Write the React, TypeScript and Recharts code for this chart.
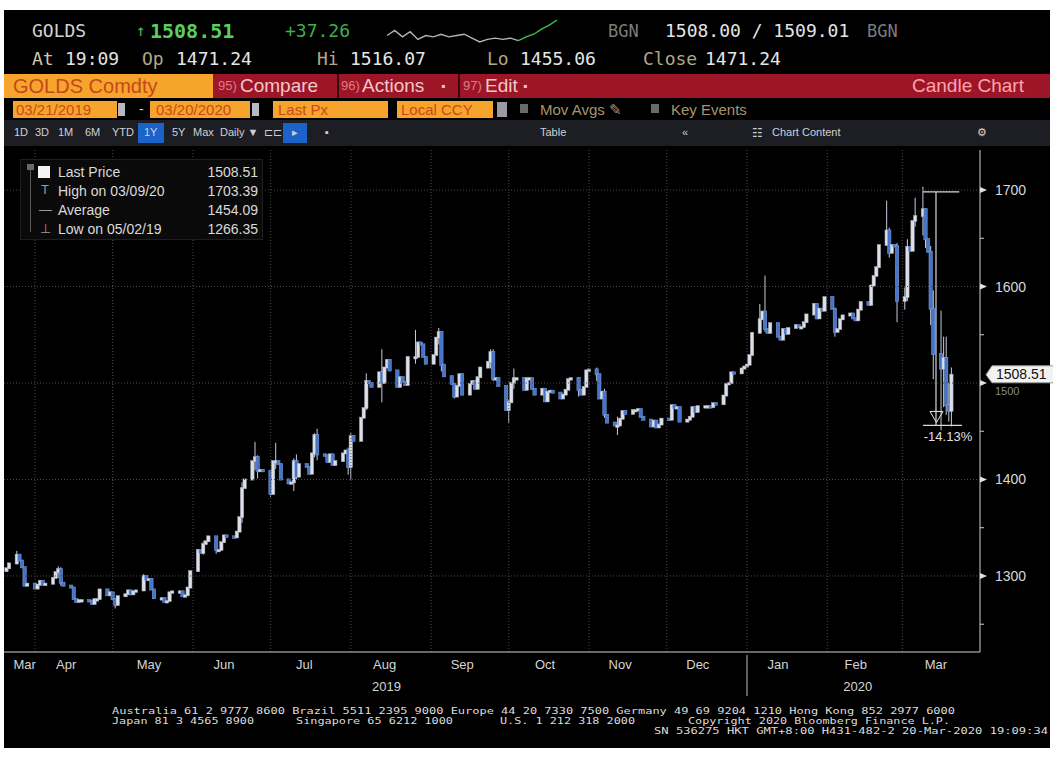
import React from "react";
import {
  ComposedChart,
  Bar,
  XAxis,
  YAxis,
  ReferenceLine,
  ReferenceDot,
  LineChart,
  Line,
} from "recharts";

// daily closes (weekdays)
const mar19 = [1308, 1313, 1322, 1316, 1309, 1290, 1292];
const apr19 = [1287, 1291, 1295, 1291, 1292, 1298, 1304, 1307, 1293, 1290, 1288, 1276, 1273, 1275, 1275, 1274, 1271, 1276, 1276, 1286, 1280, 1283];
const may19 = [1276, 1270, 1279, 1281, 1285, 1281, 1284, 1285, 1300, 1296, 1297, 1286, 1277, 1277, 1273, 1274, 1283, 1284, 1284, 1279, 1280, 1288, 1305];
const jun19 = [1327, 1324, 1333, 1336, 1341, 1327, 1327, 1335, 1342, 1341, 1340, 1346, 1361, 1391, 1400, 1419, 1423, 1409, 1410, 1409];
const jul19 = [1385, 1419, 1419, 1416, 1400, 1396, 1397, 1419, 1403, 1416, 1413, 1406, 1427, 1446, 1426, 1425, 1418, 1426, 1415, 1419, 1427, 1430, 1413];
const aug19 = [1445, 1440, 1464, 1474, 1502, 1500, 1496, 1511, 1500, 1516, 1524, 1513, 1496, 1506, 1501, 1498, 1527, 1527, 1542, 1540, 1527, 1520];
const sep19 = [1529, 1547, 1553, 1519, 1507, 1499, 1486, 1497, 1509, 1488, 1499, 1502, 1494, 1506, 1516, 1522, 1532, 1504, 1505, 1497, 1472];
const oct19 = [1480, 1500, 1505, 1505, 1493, 1505, 1505, 1494, 1488, 1494, 1481, 1491, 1492, 1490, 1484, 1488, 1493, 1504, 1505, 1493, 1488, 1496, 1513];
const nov19 = [1514, 1509, 1484, 1491, 1467, 1459, 1456, 1456, 1463, 1471, 1468, 1472, 1472, 1473, 1465, 1462, 1455, 1461, 1454, 1457, 1463];
const dec19 = [1462, 1477, 1474, 1475, 1460, 1462, 1465, 1475, 1470, 1476, 1476, 1476, 1475, 1479, 1478, 1487, 1499, 1500, 1511, 1510, 1515, 1517];
const jan20 = [1519, 1529, 1552, 1566, 1574, 1556, 1552, 1562, 1548, 1545, 1556, 1551, 1557, 1560, 1558, 1558, 1563, 1571, 1582, 1567, 1577, 1575, 1589];
const feb20 = [1577, 1553, 1556, 1566, 1570, 1572, 1567, 1565, 1576, 1584, 1581, 1601, 1611, 1620, 1643, 1658, 1635, 1643, 1642, 1585];
const mar20 = [1589, 1641, 1637, 1668, 1673, 1680, 1649, 1636, 1577, 1530, 1515, 1526, 1477, 1471.24, 1508.51];

const firstOpen = 1305;

// [year, month, first day, closes]
const monthBlocks: [number, number, number, number[]][] = [
  [2019, 3, 21, mar19],
  [2019, 4, 1, apr19],
  [2019, 5, 1, may19],
  [2019, 6, 1, jun19],
  [2019, 7, 1, jul19],
  [2019, 8, 1, aug19],
  [2019, 9, 1, sep19],
  [2019, 10, 1, oct19],
  [2019, 11, 1, nov19],
  [2019, 12, 1, dec19],
  [2020, 1, 1, jan20],
  [2020, 2, 1, feb20],
  [2020, 3, 1, mar20],
];

// visible wicks: [date, high, low]
const wicks: [string, number, number][] = [
  ["2019-03-25", 1326, 1312],
  ["2019-04-10", 1310, 1298],
  ["2019-04-11", 1309, 1290],
  ["2019-05-02", 1277, 1266.35],
  ["2019-05-13", 1302, 1285],
  ["2019-06-05", 1336, 1322],
  ["2019-06-10", 1340, 1323],
  ["2019-06-20", 1397, 1355],
  ["2019-06-25", 1439, 1410],
  ["2019-06-26", 1425, 1401],
  ["2019-07-01", 1409, 1382],
  ["2019-07-03", 1438, 1411],
  ["2019-07-10", 1422, 1388],
  ["2019-07-11", 1426, 1400],
  ["2019-07-18", 1448, 1423],
  ["2019-07-19", 1452.6, 1420],
  ["2019-07-31", 1433, 1405],
  ["2019-08-01", 1448, 1400],
  ["2019-08-07", 1510, 1472],
  ["2019-08-13", 1535, 1480],
  ["2019-08-26", 1555, 1520],
  ["2019-09-04", 1557, 1540],
  ["2019-09-05", 1552, 1512],
  ["2019-09-10", 1500, 1484],
  ["2019-09-24", 1535, 1515],
  ["2019-09-25", 1535, 1502],
  ["2019-10-01", 1483, 1459],
  ["2019-10-03", 1515, 1494],
  ["2019-10-28", 1506, 1486],
  ["2019-11-04", 1516, 1502],
  ["2019-11-07", 1494, 1464],
  ["2019-11-12", 1465, 1446],
  ["2020-01-06", 1582, 1552],
  ["2020-01-08", 1611.4, 1553],
  ["2020-02-04", 1578, 1548],
  ["2020-02-24", 1689, 1643],
  ["2020-02-25", 1661, 1630],
  ["2020-02-28", 1645, 1563],
  ["2020-03-02", 1599, 1576],
  ["2020-03-03", 1649, 1585],
  ["2020-03-06", 1692, 1662],
  ["2020-03-09", 1703.39, 1653],
  ["2020-03-10", 1681, 1640],
  ["2020-03-12", 1642, 1560],
  ["2020-03-13", 1596, 1504],
  ["2020-03-16", 1575, 1451],
  ["2020-03-17", 1548, 1475],
  ["2020-03-18", 1548, 1467],
  ["2020-03-19", 1500, 1460],
  ["2020-03-20", 1516.07, 1455.06],
];

const monthStarts = ["2019-04-01", "2019-05-01", "2019-06-01", "2019-07-01", "2019-08-01", "2019-09-01", "2019-10-01", "2019-11-01", "2019-12-01", "2020-01-01", "2020-02-01", "2020-03-01"];
const labelDates = ["2019-03-28", "2019-04-13", "2019-05-15", "2019-06-13", "2019-07-14", "2019-08-14", "2019-09-13", "2019-10-15", "2019-11-13", "2019-12-13", "2020-01-13", "2020-02-12", "2020-03-14"];
const monthNames = ["Mar", "Apr", "May", "Jun", "Jul", "Aug", "Sep", "Oct", "Nov", "Dec", "Jan", "Feb", "Mar"];
const yearLabels: [string, string][] = [["2019-08-14", "2019"], ["2020-02-12", "2020"]];
const yearBreak = "2020-01-01";

const majorTicks = [1300, 1400, 1500, 1600, 1700];
const minorTicks = [1250, 1350, 1450, 1550, 1650];
const lastPrice = 1508.51;
// the axis label that sits under the last-price tag
const lastPriceTick = 1500;

// high-to-low marker
const markHigh = 1698;
const markLow = 1456;
const markTopFrom = "2020-03-09";
const markTopTo = "2020-03-23";
const markBotFrom = "2020-03-09";
const markBotTo = "2020-03-24";
const markAt = "2020-03-14";
const markText = "-14.13%";

const sparkVals = [8, 12, 7, 11, 5, 8, 7, 9, 7, 8, 9, 6, 3, 5, 6, 5, 6, 4, 7, 9, 13, 16, 20];
const sparkSplit = 17;

const START = Date.UTC(2019, 2, 21);
const dayOf = (iso: string) =>
  Math.round((Date.parse(iso + "T00:00:00Z") - START) / 86400000);

const wickMap: Record<string, [number, number]> = {};
wicks.forEach(([d, h, l]) => (wickMap[d] = [h, l]));

const candles: any[] = [];
let prevClose = firstOpen;
monthBlocks.forEach(([yr, mo, from, closes]) => {
  const lastDay = new Date(Date.UTC(yr, mo, 0)).getUTCDate();
  let i = 0;
  for (let day = from; day <= lastDay && i < closes.length; day++) {
    const dt = new Date(Date.UTC(yr, mo - 1, day));
    const wd = dt.getUTCDay();
    if (wd === 0 || wd === 6) continue;
    const iso = dt.toISOString().slice(0, 10);
    const close = closes[i++];
    const open = prevClose;
    const w = wickMap[iso];
    const high = Math.max(open, close, w ? w[0] : -Infinity);
    const low = Math.min(open, close, w ? w[1] : Infinity);
    candles.push({ d: dayOf(iso), open, close, high, low, range: [low, high] });
    prevClose = close;
  }
});

const sparkData = sparkVals.map((v, i) => ({
  i,
  g: i <= sparkSplit ? v : null,
  n: i >= sparkSplit ? v : null,
}));

const labelDays = labelDates.map(dayOf);

const Candle = (props: any) => {
  const { x, y, width, height, payload } = props;
  if (x == null || !payload) return null;
  const { open, close, high, low } = payload;
  const top = Math.min(y, y + height);
  const h = Math.abs(height);
  const k = high > low ? h / (high - low) : 0;
  const yOf = (v: number) => top + (high - v) * k;
  const b1 = yOf(Math.max(open, close));
  const b2 = yOf(Math.min(open, close));
  const cx = x + width / 2;
  const up = close >= open;
  const bw = 3.4;
  return (
    <g>
      <line x1={cx} x2={cx} y1={top} y2={top + h} stroke="#c4ccdc" strokeWidth={1} />
      <rect
        x={cx - bw / 2}
        y={b1 - 0.6}
        width={bw}
        height={Math.max(b2 - b1, 1.4) + 1.2}
        fill={up ? "#dcdfe6" : "#4574c8"}
        stroke={up ? "#9fa8b8" : "#80a4e2"}
        strokeWidth={0.5}
      />
    </g>
  );
};

const MonthTick = (props: any) => {
  const { x, y, payload } = props;
  const idx = labelDays.indexOf(payload.value);
  const yl = yearLabels.find(([d]) => dayOf(d) === payload.value);
  return (
    <g>
      <text x={x} y={y + 17} textAnchor="middle" fill="#d4d4d4" fontSize={13} fontFamily="Liberation Sans Narrow, Liberation Sans, sans-serif">
        {idx >= 0 ? monthNames[idx] : ""}
      </text>
      {yl && (
        <text x={x + 2} y={y + 39} textAnchor="middle" fill="#d4d4d4" fontSize={13} fontFamily="Liberation Sans Narrow, Liberation Sans, sans-serif">
          {yl[1]}
        </text>
      )}
    </g>
  );
};

const PriceTick = (props: any) => {
  const { x, y, payload } = props;
  const v = payload.value;
  if (!majorTicks.includes(v)) {
    return <line x1={x} x2={x + 4} y1={y} y2={y} stroke="#cfcfcf" strokeWidth={1} />;
  }
  const hidden = v === lastPriceTick;
  return (
    <g>
      <polygon points={`${x},${y - 3} ${x + 7},${y} ${x},${y + 3}`} fill="#e0e0e0" />
      <text
        x={x + 15}
        y={hidden ? y + 12 : y + 5}
        fill={hidden ? "#8a8a8a" : "#d8d8d8"}
        fontSize={hidden ? 11 : 14}
        fontFamily="Liberation Sans, sans-serif"
      >
        {v}
      </text>
    </g>
  );
};

const LastPriceLabel = (props: any) => {
  const vb = props.viewBox || {};
  const bx = vb.x + vb.width + 6;
  const y = vb.y;
  return (
    <g>
      <polygon
        points={`${bx},${y} ${bx + 6},${y - 9} ${bx + 68},${y - 9} ${bx + 68},${y + 8} ${bx + 6},${y + 8}`}
        fill="#f2f2f2"
        stroke="#9a9a9a"
        strokeWidth={1}
      />
      <text x={bx + 10} y={y + 4.5} fill="#111" fontSize={14} fontFamily="Liberation Sans, sans-serif">
        {lastPrice.toFixed(2)}
      </text>
    </g>
  );
};

const YearBreak = (props: any) => {
  const { x1, y1, x2, y2 } = props;
  if (x1 == null) return null;
  const bottom = Math.max(y1, y2);
  return (
    <g>
      <line x1={x1} x2={x2} y1={y1} y2={y2} stroke="#4a4a4a" strokeDasharray="1 2" />
      <line x1={x1} x2={x1} y1={bottom + 3} y2={bottom + 44} stroke="#bdbdbd" strokeWidth={1} />
    </g>
  );
};

const DropMarker = (props: any) => {
  const { cx, cy } = props;
  if (cx == null) return null;
  return (
    <g>
      <polygon points={`${cx - 6},${cy - 14} ${cx + 7},${cy - 14} ${cx + 0.5},${cy - 3}`} fill="none" stroke="#e6e6e6" strokeWidth={1} />
      <text x={cx + 12} y={cy + 16} textAnchor="middle" fill="#e0e0e0" fontSize={13} fontFamily="Liberation Sans Narrow, Liberation Sans, sans-serif">
        {markText}
      </text>
    </g>
  );
};

const T = ({ x, y, size = 18, color = "#d0d0d0", family = "DejaVu Sans Mono, monospace", weight = 400, children }: any) => (
  <div
    style={{
      position: "absolute",
      left: x,
      top: y - size * 0.6,
      fontSize: size,
      lineHeight: `${size * 1.2}px`,
      color,
      fontFamily: family,
      fontWeight: weight,
      whiteSpace: "nowrap",
    }}
  >
    {children}
  </div>
);

const Box = ({ x, y, w, h, bg, border }: any) => (
  <div style={{ position: "absolute", left: x, top: y, width: w, height: h, background: bg, border, boxSizing: "border-box" }} />
);

const SANS = "Liberation Sans, Arial, sans-serif";

const toolbarItems: [string, number][] = [
  ["1D", 14], ["3D", 35], ["1M", 58], ["6M", 85], ["YTD", 112], ["1Y", 144],
  ["5Y", 172], ["Max", 193], ["Daily ▼", 220], ["⊏⊏", 264], ["▸", 292], ["▪", 325],
  ["Table", 540], ["«", 682], ["Chart Content", 772], ["⚙", 977],
];

export default function App() {
  return (
    <div style={{ position: "absolute", left: 0, top: 0, width: 1053, height: 758, background: "#fff", overflow: "hidden" }}>
      <Box x={4} y={10} w={1046} h={738} bg="#000" />

      {/* quote line */}
      <T x={32} y={31} color="#d2d2d2">GOLDS</T>
      <T x={136} y={31} size={16} color="#48b852">↑</T>
      <T x={150} y={31} size={20} weight={700} color="#58cf60">1508.51</T>
      <T x={285} y={31} size={18} color="#3fae4c">+37.26</T>
      <div style={{ position: "absolute", left: 386, top: 19 }}>
        <LineChart width={172} height={24} data={sparkData} margin={{ top: 1, right: 1, bottom: 1, left: 1 }}>
          <XAxis dataKey="i" hide />
          <YAxis hide domain={["dataMin", "dataMax"]} />
          <Line dataKey="g" stroke="#b4b4b4" strokeWidth={1.4} dot={false} isAnimationActive={false} />
          <Line dataKey="n" stroke="#3cc24a" strokeWidth={1.4} dot={false} isAnimationActive={false} />
        </LineChart>
      </div>
      <T x={608} y={31} size={17} color="#7c7c7c">BGN</T>
      <T x={665} y={31} size={18} color="#e4e4e4">1508.00 / 1509.01</T>
      <T x={867} y={31} size={17} color="#7c7c7c">BGN</T>

      <T x={32} y={59} color="#cfc6ad">At</T>
      <T x={65} y={59} color="#e2e2e2">19:09</T>
      <T x={142} y={59} color="#b3a585">Op</T>
      <T x={176} y={59} color="#e6e6e6">1471.24</T>
      <T x={317} y={59} color="#b3a585">Hi</T>
      <T x={350} y={59} color="#e6e6e6">1516.07</T>
      <T x={487} y={59} color="#b3a585">Lo</T>
      <T x={520} y={59} color="#e6e6e6">1455.06</T>
      <T x={643} y={59} color="#b3a585">Close</T>
      <T x={705} y={59} color="#e6e6e6">1471.24</T>

      {/* command bar */}
      <Box x={4} y={74} w={209} h={24} bg="#f6a42c" />
      <T x={13} y={86} size={20} color="#c4481a" family={SANS}>GOLDS Comdty</T>
      <Box x={213} y={74} w={837} h={24} bg="#9c1628" />
      <Box x={337} y={74} w={2} h={24} bg="#3a0610" />
      <Box x={458} y={74} w={2} h={24} bg="#3a0610" />
      <T x={218} y={86} size={13} color="#e07a82" family={SANS}>95)</T>
      <T x={240} y={86} size={19} color="#f3c6c8" family={SANS}>Compare</T>
      <T x={341} y={86} size={13} color="#e07a82" family={SANS}>96)</T>
      <T x={362} y={86} size={19} color="#f3c6c8" family={SANS}>Actions</T>
      <T x={441} y={86} size={12} color="#f3c6c8" family={SANS}>▪</T>
      <T x={463} y={86} size={13} color="#e07a82" family={SANS}>97)</T>
      <T x={485} y={86} size={19} color="#f3c6c8" family={SANS}>Edit</T>
      <T x={523} y={86} size={12} color="#f3c6c8" family={SANS}>▪</T>
      <T x={912} y={86} size={19} color="#ffa3ad" family={SANS}>Candle Chart</T>

      {/* date row */}
      <Box x={13} y={101} w={104} h={17} bg="#f6a42c" />
      <T x={16} y={109.5} size={15} color="#c84a18" family={SANS}>03/21/2019</T>
      <Box x={118} y={103} w={7} h={13} bg="#b8b8c4" />
      <T x={139} y={109.5} size={14} color="#c8c8c8" family={SANS}>-</T>
      <Box x={150} y={101} w={100} h={17} bg="#f6a42c" />
      <T x={156} y={109.5} size={15} color="#c84a18" family={SANS}>03/20/2020</T>
      <Box x={252} y={103} w={7} h={13} bg="#b8b8c4" />
      <Box x={273} y={101} w={115} h={17} bg="#f6a42c" />
      <T x={278} y={109.5} size={15} color="#c84a18" family={SANS}>Last Px</T>
      <Box x={397} y={101} w={96} h={17} bg="#f6a42c" />
      <T x={401} y={109.5} size={15} color="#c84a18" family={SANS}>Local CCY</T>
      <Box x={497} y={102} w={10} h={15} bg="#9a9aa4" />
      <Box x={520} y={104} w={8} h={9} bg="#6a6a6a" />
      <T x={540} y={109.5} size={15} color="#a8946c" family={SANS}>Mov Avgs ✎</T>
      <Box x={651} y={104} w={8} h={9} bg="#6a6a6a" />
      <T x={671} y={109.5} size={15} color="#a8946c" family={SANS}>Key Events</T>

      {/* toolbar */}
      <Box x={4} y={120} w={1046} h={26} bg="#1d1d24" />
      <Box x={138} y={123} w={26} h={20} bg="#1c63c9" />
      <Box x={283} y={123} w={24} h={20} bg="#1c63c9" />
      {toolbarItems.map(([t, x]) => (
        <T key={t} x={x} y={133} size={11} color="#d0d0d6" family={SANS}>{t}</T>
      ))}
      <T x={752} y={133} size={12} color="#cfcfd4" family="DejaVu Sans, sans-serif">☷</T>

      {/* price chart */}
      <div style={{ position: "absolute", left: 0, top: 145 }}>
        <ComposedChart width={1053} height={560} data={candles} margin={{ top: 5, right: 0, bottom: 8, left: 4 }}>
          <XAxis
            dataKey="d"
            type="number"
            domain={[-1, 376]}
            ticks={labelDays}
            interval={0}
            tick={<MonthTick />}
            tickSize={0}
            tickMargin={0}
            tickLine={false}
            height={45}
            axisLine={{ stroke: "#cfcfcf" }}
            allowDataOverflow
          />
          <YAxis
            orientation="right"
            type="number"
            domain={[1221.2, 1741.5]}
            ticks={[...minorTicks, ...majorTicks].sort((a, b) => a - b)}
            interval={0}
            tick={<PriceTick />}
            tickSize={0}
            tickMargin={0}
            tickLine={false}
            width={73}
            axisLine={{ stroke: "#cfcfcf" }}
            allowDataOverflow
          />
          {majorTicks.map((v) => (
            <ReferenceLine key={`h${v}`} y={v} stroke="#4a4a4a" strokeDasharray="1 2" />
          ))}
          {monthStarts.map((d) =>
            d === yearBreak ? (
              <ReferenceLine key={d} x={dayOf(d)} shape={<YearBreak />} />
            ) : (
              <ReferenceLine key={d} x={dayOf(d)} stroke="#4a4a4a" strokeDasharray="1 2" />
            )
          )}
          <Bar dataKey="range" barSize={3} shape={<Candle />} isAnimationActive={false} />
          <ReferenceLine
            segment={[{ x: dayOf(markTopFrom), y: markHigh }, { x: dayOf(markTopTo), y: markHigh }]}
            stroke="#d8d8d8"
            strokeWidth={1.2}
          />
          <ReferenceLine
            segment={[{ x: dayOf(markAt), y: markHigh }, { x: dayOf(markAt), y: markLow }]}
            stroke="#d8d8d8"
            strokeWidth={1.2}
          />
          <ReferenceLine
            segment={[{ x: dayOf(markBotFrom), y: markLow }, { x: dayOf(markBotTo), y: markLow }]}
            stroke="#d8d8d8"
            strokeWidth={1.2}
          />
          <ReferenceDot x={dayOf(markAt)} y={markLow} r={0} shape={<DropMarker />} />
          <ReferenceLine y={lastPrice} stroke="none" label={<LastPriceLabel />} />
        </ComposedChart>
      </div>

      {/* legend */}
      <Box x={20} y={159} w={243} h={81} bg="#0a0a0a" border="1px solid #1f1f1f" />
      <Box x={30} y={166} w={1} h={66} bg="#5a5a5a" />
      <Box x={27} y={164} w={7} h={6} bg="#6a6a6a" />
      <Box x={38} y={166} w={12} h={12} bg="#f4f4f4" />
      <T x={58} y={172} size={14} color="#dadada" family={SANS}>Last Price</T>
      <T x={41} y={190} size={13} color="#9a9a9a" family={SANS}>T</T>
      <T x={58} y={191} size={14} color="#dadada" family={SANS}>High on 03/09/20</T>
      <T x={39} y={210} size={13} color="#9a9a9a" family={SANS}>—</T>
      <T x={58} y={210} size={14} color="#dadada" family={SANS}>Average</T>
      <T x={40} y={229} size={13} color="#9a9a9a" family={SANS}>⊥</T>
      <T x={58} y={229} size={14} color="#dadada" family={SANS}>Low on 05/02/19</T>
      {[["1508.51", 172], ["1703.39", 191], ["1454.09", 210], ["1266.35", 229]].map(([v, y]) => (
        <div
          key={v as string}
          style={{ position: "absolute", right: 1053 - 258, top: (y as number) - 8.4, fontSize: 14, lineHeight: "16.8px", color: "#dadada", fontFamily: SANS }}
        >
          {v}
        </div>
      ))}

      {/* footer */}
      <svg style={{ position: "absolute", left: 0, top: 700 }} width={1053} height={48}>
        <g fill="#dcdcdc" fontSize={8.5} fontFamily="DejaVu Sans Mono, monospace">
          <text x={112} y={14} textLength={843} lengthAdjust="spacingAndGlyphs">
            Australia 61 2 9777 8600 Brazil 5511 2395 9000 Europe 44 20 7330 7500 Germany 49 69 9204 1210 Hong Kong 852 2977 6000
          </text>
          <text x={112} y={24} textLength={142} lengthAdjust="spacingAndGlyphs">Japan 81 3 4565 8900</text>
          <text x={296} y={24} textLength={157} lengthAdjust="spacingAndGlyphs">Singapore 65 6212 1000</text>
          <text x={500} y={24} textLength={135} lengthAdjust="spacingAndGlyphs">U.S. 1 212 318 2000</text>
          <text x={688} y={24} textLength={262} lengthAdjust="spacingAndGlyphs">Copyright 2020 Bloomberg Finance L.P.</text>
          <text x={654} y={34} textLength={394} lengthAdjust="spacingAndGlyphs">SN 536275 HKT  GMT+8:00 H431-482-2 20-Mar-2020 19:09:34</text>
        </g>
      </svg>
    </div>
  );
}
